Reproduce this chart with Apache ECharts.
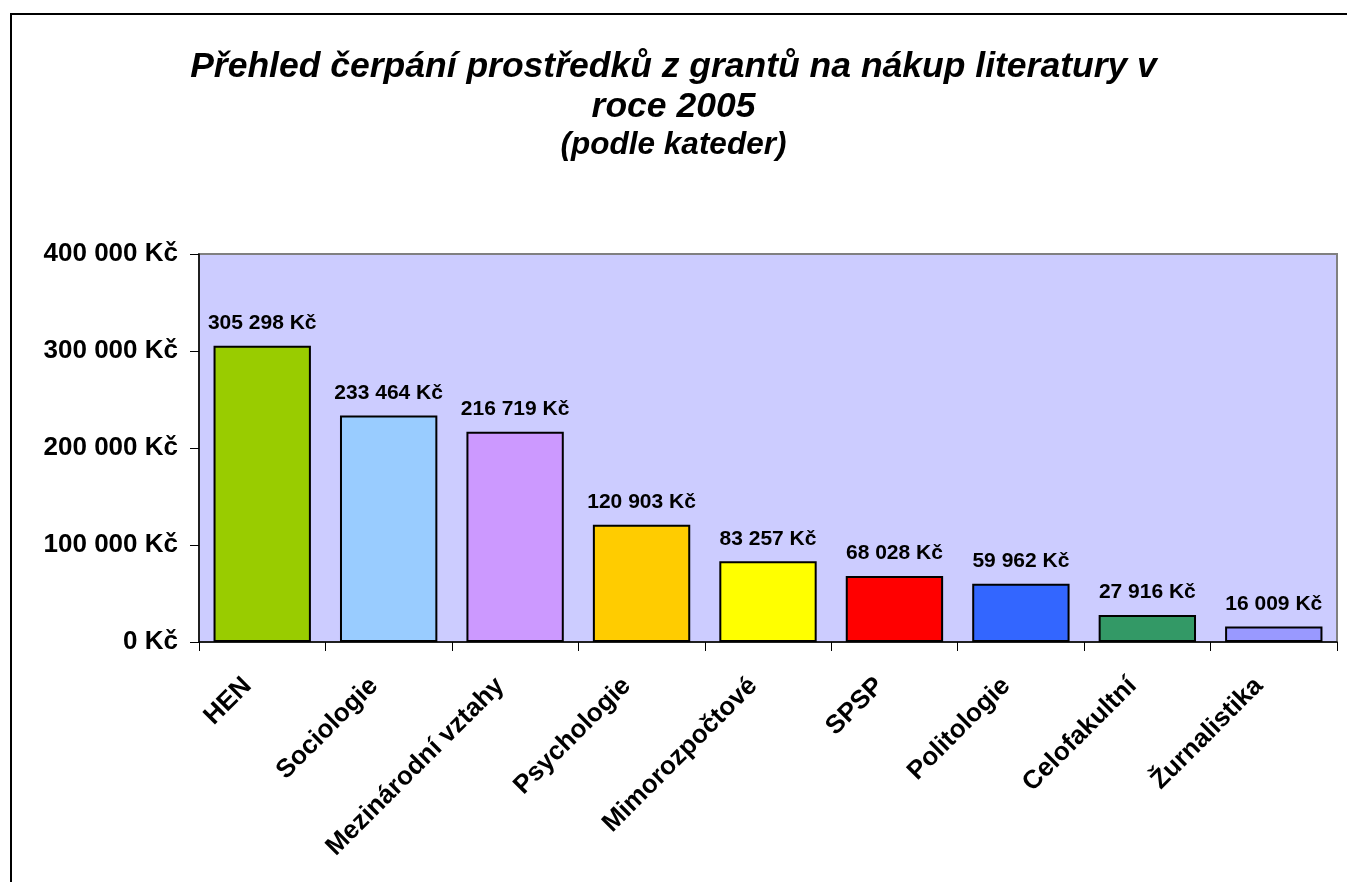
<!DOCTYPE html>
<html>
<head>
<meta charset="utf-8">
<script src="https://cdn.jsdelivr.net/npm/echarts@6/dist/echarts.min.js"></script>
<style>
  html, body { margin: 0; padding: 0; background: #fff; }
  #chart { width: 1347px; height: 882px; }
</style>
</head>
<body>
<div id="chart"></div>
<script>
// data
const categories = ['HEN', 'Sociologie', 'Mezinárodní vztahy', 'Psychologie', 'Mimorozpočtové', 'SPSP', 'Politologie', 'Celofakultní', 'Žurnalistika'];
const amounts = [305298, 233464, 216719, 120903, 83257, 68028, 59962, 27916, 16009];
const barColors = ['#99CC00', '#99CCFF', '#CC99FF', '#FFCC00', '#FFFF00', '#FF0000', '#3366FF', '#339966', '#9999FF'];
const yTicks = [0, 100000, 200000, 300000, 400000];

const FONT = '"Liberation Sans", Arial, sans-serif';

function kc(v) {
    // 305298 -> "305 298 Kč"
    return String(Math.round(v)).replace(/\B(?=(\d{3})+(?!\d))/g, ' ') + ' Kč';
}

const chart = echarts.init(document.getElementById('chart'));

chart.setOption({
    animation: false,
    backgroundColor: '#fff',
    title: {
        text: 'Přehled čerpání prostředků z grantů na nákup literatury v\nroce 2005',
        subtext: '(podle kateder)',
        left: 'center',
        top: 42,
        itemGap: 2,
        textStyle: {
            fontFamily: FONT,
            fontSize: 35.5,
            fontStyle: 'italic',
            fontWeight: 'bold',
            color: '#000',
            lineHeight: 40
        },
        subtextStyle: {
            fontFamily: FONT,
            fontSize: 31.5,
            fontStyle: 'italic',
            fontWeight: 'bold',
            color: '#000',
            lineHeight: 32
        }
    },
    // outer frame of the original picture
    graphic: [{
        type: 'rect',
        shape: { x: 11, y: 14, width: 1345, height: 900 },
        style: { fill: 'none', stroke: '#000', lineWidth: 2 },
        silent: true
    }],
    grid: {
        left: 199,
        right: 10,
        top: 254,
        bottom: 240,
        show: true,
        backgroundColor: '#CCCCFF',
        borderColor: '#808080',
        borderWidth: 2
    },
    xAxis: {
        type: 'category',
        data: categories,
        axisLine: { show: true, lineStyle: { color: '#000', width: 1.5 } },
        axisTick: { show: true, alignWithLabel: false, length: 9, lineStyle: { color: '#000' } },
        axisLabel: {
            interval: 0,
            rotate: 45,
            margin: 25,
            padding: [0, 21, 0, 0],
            fontFamily: FONT,
            fontSize: 26,
            fontWeight: 'bold',
            color: '#000'
        }
    },
    yAxis: {
        type: 'value',
        min: yTicks[0],
        max: yTicks[yTicks.length - 1],
        interval: yTicks[1] - yTicks[0],
        axisLine: { show: true, lineStyle: { color: '#000', width: 1.5 } },
        axisTick: { show: true, length: 9, lineStyle: { color: '#000' } },
        splitLine: { show: false },
        axisLabel: {
            margin: 21,
            fontFamily: FONT,
            fontSize: 26,
            fontWeight: 'bold',
            color: '#000',
            formatter: kc
        }
    },
    series: [{
        type: 'bar',
        data: amounts.map((v, i) => ({ value: v, itemStyle: { color: barColors[i] } })),
        barCategoryGap: '23%',
        itemStyle: { borderColor: '#000', borderWidth: 2 },
        label: {
            show: true,
            position: 'top',
            distance: 12,
            fontFamily: FONT,
            fontSize: 21,
            fontWeight: 'bold',
            color: '#000',
            formatter: p => kc(p.value)
        }
    }]
});
</script>
</body>
</html>
